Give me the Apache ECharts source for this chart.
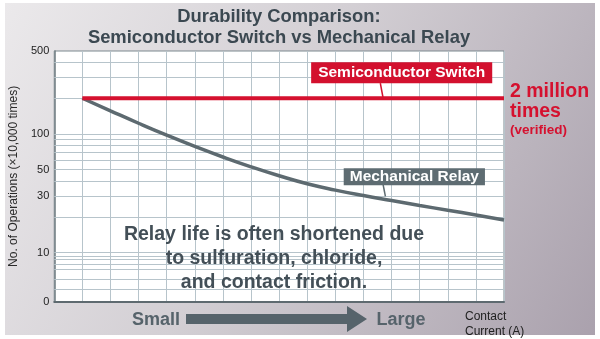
<!DOCTYPE html>
<html>
<head>
<meta charset="utf-8">
<script src="https://cdn.jsdelivr.net/npm/echarts@6/dist/echarts.min.js"></script>
<style>
html,body{margin:0;padding:0;background:#ffffff;}
#chart{width:600px;height:339px;}
</style>
</head>
<body>
<div id="chart"></div>
<script>
// ---- data ----
var xPositions = [1, 2, 3, 4, 5, 6, 7, 8, 9, 10, 11, 12, 13, 14, 15, 16];
var semiconductorValues = [200, 200, 200, 200, 200, 200, 200, 200, 200, 200, 200, 200, 200, 200, 200, 200];
var relayValues = [200, 156.7, 123.2, 97.8, 78.6, 64.0, 52.9, 44.5, 38.1, 33.7, 30.3, 27.5, 25.0, 22.8, 20.8, 18.9];
var yTickValues = [3.87, 10, 30, 50, 100, 500];
var yTickLabels = ['0', '10', '30', '50', '100', '500'];
var yGridValues = [400, 300, 200, 100, 90, 80, 70, 60, 50, 40, 30, 20, 10, 9.4, 8.8, 8, 7.2, 6, 4.9];
var seriesNames = ['Semiconductor Switch', 'Mechanical Relay'];

var chart = echarts.init(document.getElementById('chart'), null, {renderer: 'canvas'});

function pairs(xs, ys) { return xs.map(function (x, i) { return [x, ys[i]]; }); }

var FONT = '"Liberation Sans", Arial, sans-serif';
var RED = '#d5112f';
var GRAY = '#5d6a70';

var option = {
  animation: false,
  backgroundColor: '#ffffff',
  textStyle: {fontFamily: FONT},
  graphic: [
    {type: 'rect', z: -10, silent: true,
     shape: {x: 5, y: 3, width: 590, height: 332},
     style: {fill: new echarts.graphic.LinearGradient(0, 0, 1, 1, [
       {offset: 0, color: '#ebe9eb'},
       {offset: 0.45, color: '#d3cfd4'},
       {offset: 1, color: '#aaa1ad'}
     ])}},
    {type: 'rect', z: -5, silent: true,
     shape: {x: 54, y: 51, width: 450, height: 250.7},
     style: {fill: '#ffffff'}},
    {type: 'text', x: 279, y: 6, z: 10,
     style: {text: 'Durability Comparison:\nSemiconductor Switch vs Mechanical Relay',
       font: 'bold 18.4px ' + FONT, fill: '#3b4851', align: 'center', verticalAlign: 'top', lineHeight: 21}},
    {type: 'text', x: 274, y: 223, z: 10,
     style: {text: 'Relay life is often shortened due\nto sulfuration, chloride,\nand contact friction.',
       font: 'bold 19.5px ' + FONT, fill: '#434f57', align: 'center', verticalAlign: 'top', lineHeight: 24}},
    {type: 'text', x: 510, y: 82, z: 10,
     style: {text: '2 million\ntimes', font: 'bold 19.5px ' + FONT, fill: RED, align: 'left', verticalAlign: 'top', lineHeight: 20}},
    {type: 'text', x: 510, y: 123, z: 10,
     style: {text: '(verified)', font: 'bold 13.5px ' + FONT, fill: RED, align: 'left', verticalAlign: 'top'}},
    {type: 'polygon', z: 10,
     shape: {points: [[186, 314], [347, 314], [347, 306], [367, 319], [347, 332], [347, 324], [186, 324]]},
     style: {fill: '#56636b'}},
    {type: 'text', x: 156, y: 320, z: 10,
     style: {text: 'Small', font: 'bold 18px ' + FONT, fill: '#56636b', align: 'center', verticalAlign: 'middle'}},
    {type: 'text', x: 401, y: 320, z: 10,
     style: {text: 'Large', font: 'bold 18px ' + FONT, fill: '#56636b', align: 'center', verticalAlign: 'middle'}},
    {type: 'text', x: 465, y: 309, z: 10,
     style: {text: 'Contact\nCurrent (A)', font: '12px ' + FONT, fill: '#222222', align: 'left', verticalAlign: 'top', lineHeight: 15}}
  ],
  grid: {left: 54, right: 96, top: 51, bottom: 37.3, show: true,
    backgroundColor: 'transparent', borderColor: '#7d898f', borderWidth: 1},
  xAxis: {
    type: 'value', min: 0, max: 16, interval: 1,
    axisLine: {show: true, onZero: false, lineStyle: {color: '#5e6a70', width: 2}},
    axisTick: {show: false}, axisLabel: {show: false},
    splitLine: {show: true, lineStyle: {color: '#b7c4cb', width: 1}}
  },
  yAxis: {
    type: 'log', logBase: 10, min: 3.87, max: 500,
    name: 'No. of Operations (×10,000 times)', nameLocation: 'middle', nameGap: 34, nameRotate: 90,
    nameTextStyle: {fontSize: 12, color: '#2a2a2a', fontFamily: FONT},
    axisLine: {show: true, lineStyle: {color: '#6c787e', width: 1.5}},
    axisTick: {show: false},
    splitLine: {show: false},
    axisLabel: {
      customValues: yTickValues, fontSize: 11, color: '#222222', margin: 5,
      formatter: function (v) {
        var best = 0, bd = Infinity;
        yTickValues.forEach(function (t, i) { var d = Math.abs(Math.log(t) - Math.log(v)); if (d < bd) { bd = d; best = i; } });
        return yTickLabels[best];
      }
    }
  },
  series: [
    {
      name: 'grid', type: 'line', z: 1, silent: true, symbol: 'none',
      data: pairs(xPositions, relayValues), lineStyle: {opacity: 0},
      markLine: {
        silent: true, symbol: 'none', z: 1, animation: false,
        label: {show: false},
        lineStyle: {color: '#b7c4cb', width: 1, type: 'solid'},
        data: yGridValues.map(function (v) { return {yAxis: v}; })
      }
    },
    {
      name: seriesNames[0], type: 'line', z: 4, symbol: 'none',
      data: pairs(xPositions, semiconductorValues),
      lineStyle: {color: RED, width: 4},
      markLine: {
        silent: true, symbol: 'none', z: 6, animation: false, label: {show: false},
        lineStyle: {color: RED, width: 1.5, type: 'solid'},
        data: [[{coord: [11.6, 268]}, {coord: [11.7, 200]}]]
      },
      markPoint: {
        symbol: 'rect', symbolSize: 0, z: 7, animation: false,
        data: [{coord: [12.36, 328], value: seriesNames[0]}],
        label: {show: true, position: 'inside', formatter: '{c}', color: '#ffffff',
          fontWeight: 'bold', fontSize: 15.5, fontFamily: FONT,
          backgroundColor: '#d3102e', padding: [3, 7, 2, 7]}
      }
    },
    {
      name: seriesNames[1], type: 'line', z: 3, symbol: 'none', smooth: 0.5,
      data: pairs(xPositions, relayValues),
      lineStyle: {color: GRAY, width: 3.5},
      markLine: {
        silent: true, symbol: 'none', z: 6, animation: false, label: {show: false},
        lineStyle: {color: GRAY, width: 1.5, type: 'solid'},
        data: [[{coord: [11.7, 37.5]}, {coord: [11.78, 29.8]}]]
      },
      markPoint: {
        symbol: 'rect', symbolSize: 0, z: 7, animation: false,
        data: [{coord: [12.81, 43.6], value: seriesNames[1]}],
        label: {show: true, position: 'inside', formatter: '{c}', color: '#ffffff',
          fontWeight: 'bold', fontSize: 15.5, fontFamily: FONT,
          backgroundColor: '#5e6c72', padding: [1, 6, 0, 6]}
      }
    }
  ]
};
chart.setOption(option);
</script>
</body>
</html>
